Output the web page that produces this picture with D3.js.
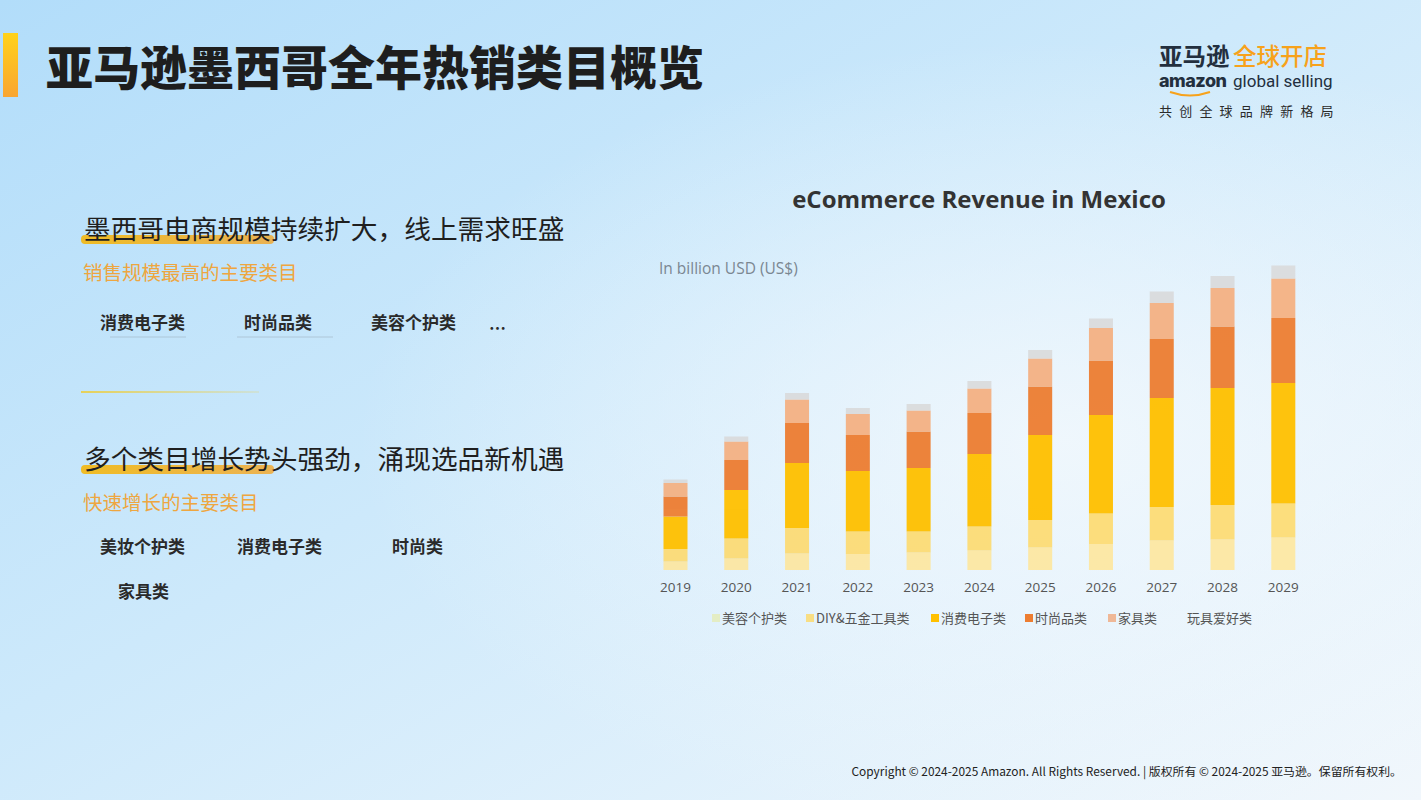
<!DOCTYPE html>
<html>
<head>
<meta charset="utf-8">
<script src="https://cdn.jsdelivr.net/npm/d3@7"></script>
<style>
  html, body { margin: 0; padding: 0; }
  body { width: 1421px; height: 800px; overflow: hidden; font-family: "Noto Sans CJK SC", "Noto Sans", sans-serif; }
</style>
</head>
<body>
<div id="slide"></div>
<script>
// data (billion USD)
const years = ['2019', '2020', '2021', '2022', '2023', '2024', '2025', '2026', '2027', '2028', '2029']
const beauty      = [1.7, 2.3, 3.3, 3.2, 3.5, 3.9, 4.5, 5.2, 5.9, 6.1, 6.5]
const diy         = [2.5, 4.0, 5.1, 4.5, 4.2, 4.8, 5.5, 6.1, 6.7, 6.9, 6.8]
const electronics = [6.5, 9.7, 13.0, 12.1, 12.7, 14.5, 17.0, 19.7, 21.8, 23.4, 24.1]
const fashion     = [4.0, 6.0, 8.0, 7.2, 7.3, 8.2, 9.7, 10.9, 11.8, 12.3, 13.0]
const furniture   = [2.7, 3.7, 4.7, 4.2, 4.2, 4.9, 5.6, 6.5, 7.2, 7.7, 7.9]
const toys        = [0.7, 1.0, 1.3, 1.2, 1.3, 1.5, 1.7, 1.9, 2.3, 2.4, 2.6]

const seriesKeys = ['beauty', 'diy', 'electronics', 'fashion', 'furniture', 'toys']
const seriesNames = ['美容个护类', 'DIY&五金工具类', '消费电子类', '时尚品类', '家具类', '玩具爱好类']
const seriesColors = ['#FFE699', '#FFD966', '#FFC000', '#ED7D31', '#F4B183', '#D9D9D9']
const legendMarks = ['#E4EDC4', '#F8DE84', '#FFC000', '#ED7D31', '#EFB897', 'none']

const topCats = ['消费电子类', '时尚品类', '美容个护类', '…']
const fastCats = ['美妆个护类', '消费电子类', '时尚类', '家具类']

const rows = years.map((y, i) => ({
  year: y, beauty: beauty[i], diy: diy[i], electronics: electronics[i],
  fashion: fashion[i], furniture: furniture[i], toys: toys[i]
}))

const w = 1421, h = 800

const svg = d3.select('#slide').append('svg')
  .attr('width', w).attr('height', h)

const defs = svg.append('defs')

/* background */
const bg = defs.append('linearGradient').attr('id', 'bg')
  .attr('x1', '0').attr('y1', '0').attr('x2', '1').attr('y2', '1')
bg.append('stop').attr('offset', '0%').attr('stop-color', '#b2ddfa')
bg.append('stop').attr('offset', '45%').attr('stop-color', '#cde9fb')
bg.append('stop').attr('offset', '100%').attr('stop-color', '#f1f7fc')
svg.append('rect').attr('width', w).attr('height', h).attr('fill', 'url(#bg)')

const bg2 = defs.append('radialGradient').attr('id', 'glow')
  .attr('cx', '0.75').attr('cy', '0.55').attr('r', '0.5')
bg2.append('stop').attr('offset', '0%').attr('stop-color', '#f4f9fd').attr('stop-opacity', 0.8)
bg2.append('stop').attr('offset', '100%').attr('stop-color', '#f4f9fd').attr('stop-opacity', 0)
svg.append('rect').attr('width', w).attr('height', h).attr('fill', 'url(#glow)')

/* title accent */
const acc = defs.append('linearGradient').attr('id', 'acc')
  .attr('x1', '0').attr('y1', '0').attr('x2', '0').attr('y2', '1')
acc.append('stop').attr('offset', '0%').attr('stop-color', '#ffd21a')
acc.append('stop').attr('offset', '100%').attr('stop-color', '#f9a531')
svg.append('rect').attr('x', 3).attr('y', 33).attr('width', 15).attr('height', 64)
  .attr('fill', 'url(#acc)')

svg.append('text')
  .attr('x', 46).attr('y', 85)
  .attr('font-size', 47).attr('font-weight', 900)
  .attr('fill', '#1e1e1e')
  .text('亚马逊墨西哥全年热销类目概览')

/* logo */
const logo = svg.append('g')
logo.append('text').attr('x', 1159).attr('y', 65)
  .attr('font-size', 23.5).attr('font-weight', 700).attr('fill', '#232f3e')
  .text('亚马逊')
logo.append('text').attr('x', 1233).attr('y', 65)
  .attr('font-size', 23.5).attr('font-weight', 500).attr('fill', '#f7a21b')
  .text('全球开店')
logo.append('text').attr('x', 1159).attr('y', 87)
  .attr('font-family', 'Inter, Roboto, sans-serif')
  .attr('font-size', 18).attr('font-weight', 800).attr('fill', '#232f3e')
  .attr('letter-spacing', -0.5)
  .text('amazon')
logo.append('text').attr('x', 1233).attr('y', 87)
  .attr('font-family', 'Roboto, sans-serif')
  .attr('font-size', 17).attr('font-weight', 400).attr('fill', '#232f3e')
  .text('global selling')
logo.append('path')
  .attr('d', 'M1170,92 Q1190,99 1210,92')
  .attr('fill', 'none').attr('stroke', '#f7a21b').attr('stroke-width', 2)
logo.append('text').attr('x', 1159).attr('y', 116)
  .attr('font-size', 13).attr('fill', '#2a2a2a')
  .attr('letter-spacing', 7.2)
  .text('共创全球品牌新格局')

/* left text blocks */
const hl = defs.append('linearGradient').attr('id', 'hl')
hl.append('stop').attr('offset', '0%').attr('stop-color', '#f7b500').attr('stop-opacity', 0.85)
hl.append('stop').attr('offset', '100%').attr('stop-color', '#f7a21b').attr('stop-opacity', 0.75)

const hl2 = defs.append('linearGradient').attr('id', 'div')
hl2.append('stop').attr('offset', '0%').attr('stop-color', '#e7d15a')
hl2.append('stop').attr('offset', '100%').attr('stop-color', '#e7d15a').attr('stop-opacity', 0.2)

function block(y0, heading, sub, cats, catPos) {
  svg.append('rect').attr('x', 81).attr('y', y0 + 5).attr('width', 193).attr('height', 9)
    .attr('rx', 4).attr('fill', 'url(#hl)')
  svg.append('text').attr('x', 84).attr('y', y0 + 9)
    .attr('font-size', 26.7).attr('fill', '#1f1f1f')
    .text(heading)
  svg.append('text').attr('x', 83).attr('y', y0 + 50)
    .attr('font-size', 19.5).attr('fill', '#eea640')
    .text(sub)
  cats.forEach((c, i) => {
    svg.append('text').attr('x', catPos[i][0]).attr('y', catPos[i][1])
      .attr('font-size', 17).attr('font-weight', 700).attr('fill', '#2a2a2a')
      .text(c)
  })
}

block(230, '墨西哥电商规模持续扩大，线上需求旺盛', '销售规模最高的主要类目', topCats,
  [[100, 329], [244, 329], [371, 329], [489, 335]])
block(460, '多个类目增长势头强劲，涌现选品新机遇', '快速增长的主要类目', fastCats,
  [[100, 553], [237, 553], [392, 553], [118, 598]])

svg.append('line').attr('x1', 110).attr('x2', 186).attr('y1', 337).attr('y2', 337)
  .attr('stroke', '#9aaab8').attr('stroke-width', 1).attr('opacity', 0.5)
svg.append('line').attr('x1', 237).attr('x2', 333).attr('y1', 337).attr('y2', 337)
  .attr('stroke', '#9aaab8').attr('stroke-width', 1).attr('opacity', 0.5)
svg.append('rect').attr('x', 81).attr('y', 391).attr('width', 178).attr('height', 2)
  .attr('fill', 'url(#div)')

/* chart */
const xScale = d3.scaleBand()
  .domain(years)
  .range([645.1, 1313.7])
  .paddingInner(0.605)
  .paddingOuter(0.3025)

const yScale = d3.scaleLinear()
  .domain([0, 70])
  .range([570, 220])

const stack = d3.stack().keys(seriesKeys)
const layers = stack(rows)

svg.append('text')
  .attr('x', 979).attr('y', 208)
  .attr('text-anchor', 'middle')
  .attr('font-family', '"Open Sans", sans-serif')
  .attr('font-size', 24).attr('font-weight', 700).attr('fill', '#333')
  .text('eCommerce Revenue in Mexico')

svg.append('text')
  .attr('x', 659).attr('y', 274)
  .attr('font-family', '"Open Sans", sans-serif')
  .attr('font-size', 15.5).attr('fill', '#7b8792')
  .text('In billion USD (US$)')

svg.append('g').attr('class', 'bars')
  .selectAll('g')
  .data(layers)
  .enter().append('g')
  .attr('fill', (d, i) => seriesColors[i])
  .attr('opacity', (d, i) => i < 2 || i == 5 ? 0.85 : 0.95)
  .selectAll('rect')
  .data(d => d)
  .enter().append('rect')
  .attr('x', d => xScale(d.data.year))
  .attr('y', d => yScale(d[1]))
  .attr('width', xScale.bandwidth())
  .attr('height', d => yScale(d[0]) - yScale(d[1]))

const xAxis = d3.axisBottom(xScale).tickSize(0).tickPadding(12)
const ax = svg.append('g')
  .attr('transform', 'translate(0,570)')
  .call(xAxis)
ax.select('.domain').remove()
ax.selectAll('text')
  .attr('font-family', '"Open Sans", sans-serif')
  .attr('font-size', 13.5).attr('fill', '#555')

/* legend */
const legendX = [712, 806, 931, 1025, 1108, 1178]
const legend = svg.append('g').attr('class', 'legend')
  .selectAll('g')
  .data(seriesNames)
  .enter().append('g')
  .attr('transform', (d, i) => `translate(${legendX[i]},618)`)
legend.append('rect')
  .attr('x', 0).attr('y', -4).attr('width', 8).attr('height', 8)
  .attr('fill', (d, i) => legendMarks[i])
legend.append('text')
  .attr('x', (d, i) => i == 5 ? 9 : 10).attr('y', 5)
  .attr('font-size', 13).attr('fill', '#555')
  .text(d => d)

/* footer */
svg.append('text')
  .attr('x', 1402).attr('y', 776)
  .attr('text-anchor', 'end')
  .attr('font-size', 11.9).attr('fill', '#222')
  .text('Copyright © 2024-2025 Amazon. All Rights Reserved. | 版权所有 © 2024-2025 亚马逊。保留所有权利。')
</script>
</body>
</html>
